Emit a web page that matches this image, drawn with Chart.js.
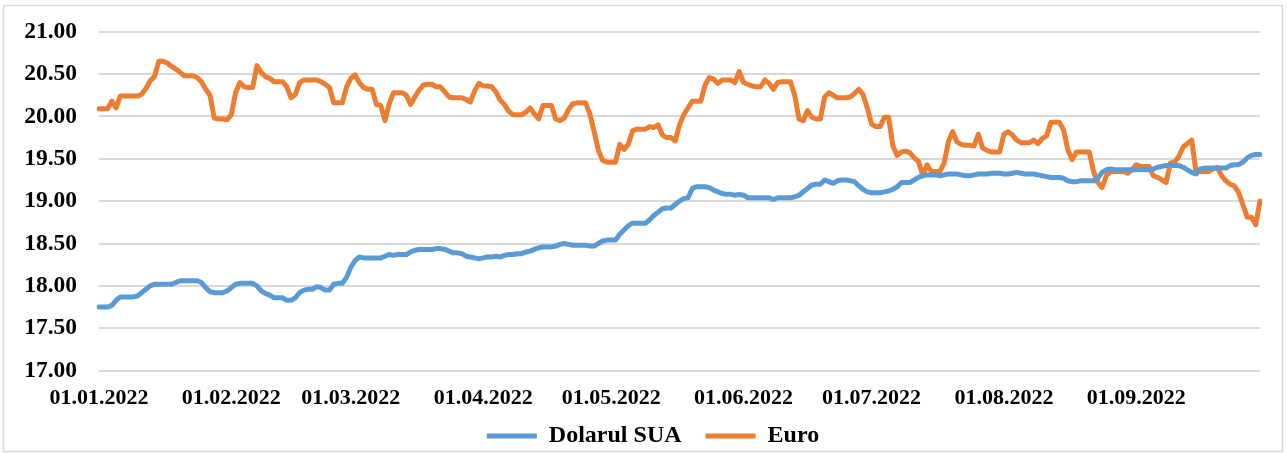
<!DOCTYPE html>
<html>
<head>
<meta charset="utf-8">
<script src="https://cdn.jsdelivr.net/npm/chart.js@4.4.0/dist/chart.umd.min.js"></script>
<style>
  html, body { margin: 0; padding: 0; background: #fff; }
  #wrap { width: 1287px; height: 453px; }
</style>
</head>
<body>
<div id="wrap"><canvas id="curs" width="1287" height="453"></canvas></div>
<script>
// cursul zilnic, 01.01.2022 - 30.09.2022 (o valoare pe zi)
const seriesNames = ['Dolarul SUA', 'Euro'];
const yTicks = [17.00, 17.50, 18.00, 18.50, 19.00, 19.50, 20.00, 20.50, 21.00];

const usdRate = [
  17.75,17.75,17.75,17.77,17.83,17.87,17.87,17.87,17.87,17.88,17.92,17.96,18.00,18.02,18.02,18.02,18.02,18.02,18.04,18.06,18.06,18.06,18.06,18.06,18.04,17.98,17.93,17.92,17.92,17.92,17.94, // ian
  17.98,18.02,18.03,18.03,18.03,18.03,18.00,17.94,17.91,17.89,17.86,17.86,17.86,17.83,17.83,17.86,17.92,17.95,17.96,17.96,17.99,17.98,17.95,17.95,18.02,18.03,18.03,18.10, // feb
  18.22,18.30,18.34,18.33,18.33,18.33,18.33,18.33,18.35,18.37,18.36,18.37,18.37,18.37,18.40,18.42,18.43,18.43,18.43,18.43,18.44,18.44,18.43,18.41,18.39,18.39,18.38,18.35,18.34,18.33,18.32, // mar
  18.33,18.34,18.34,18.35,18.34,18.36,18.37,18.37,18.38,18.38,18.40,18.41,18.43,18.45,18.46,18.46,18.46,18.47,18.49,18.50,18.49,18.48,18.48,18.48,18.48,18.47,18.47,18.50,18.53,18.54, // apr
  18.54,18.54,18.61,18.66,18.71,18.74,18.74,18.74,18.74,18.78,18.83,18.87,18.91,18.92,18.92,18.96,19.00,19.03,19.04,19.15,19.17,19.17,19.17,19.16,19.13,19.11,19.09,19.08,19.08,19.07,19.08, // mai
  19.07,19.04,19.04,19.04,19.04,19.04,19.04,19.02,19.04,19.04,19.04,19.04,19.05,19.07,19.11,19.15,19.19,19.20,19.20,19.25,19.23,19.21,19.24,19.25,19.25,19.24,19.23,19.18,19.14,19.11, // iun
  19.10,19.10,19.10,19.11,19.12,19.14,19.17,19.22,19.22,19.22,19.25,19.28,19.30,19.31,19.31,19.31,19.30,19.31,19.32,19.32,19.32,19.31,19.30,19.30,19.31,19.32,19.32,19.32,19.33,19.33,19.33, // iul
  19.32,19.32,19.33,19.34,19.33,19.32,19.32,19.32,19.31,19.30,19.29,19.28,19.28,19.28,19.27,19.24,19.23,19.23,19.24,19.24,19.24,19.24,19.27,19.34,19.37,19.38,19.37,19.37,19.37,19.37,19.37, // aug
  19.37,19.37,19.37,19.37,19.38,19.40,19.41,19.42,19.42,19.42,19.42,19.40,19.37,19.34,19.32,19.38,19.39,19.39,19.39,19.39,19.39,19.39,19.42,19.43,19.43,19.46,19.51,19.54,19.55,19.55  // sep
];

const eurRate = [
  20.09,20.09,20.09,20.18,20.10,20.24,20.24,20.24,20.24,20.24,20.26,20.33,20.42,20.47,20.65,20.65,20.63,20.59,20.56,20.52,20.48,20.48,20.48,20.46,20.41,20.32,20.25,19.98,19.97,19.97,19.96, // ian
  20.02,20.28,20.40,20.35,20.34,20.34,20.60,20.52,20.47,20.45,20.41,20.41,20.41,20.35,20.22,20.26,20.40,20.43,20.43,20.43,20.43,20.41,20.38,20.34,20.16,20.16,20.16,20.35, // feb
  20.45,20.49,20.40,20.34,20.32,20.32,20.14,20.13,19.95,20.15,20.28,20.28,20.28,20.25,20.14,20.23,20.31,20.37,20.38,20.38,20.35,20.35,20.29,20.23,20.22,20.22,20.22,20.20,20.17,20.30,20.39, // mar
  20.36,20.36,20.35,20.29,20.19,20.14,20.06,20.02,20.02,20.02,20.05,20.10,20.03,19.97,20.13,20.13,20.13,19.97,19.95,19.98,20.08,20.15,20.16,20.16,20.16,20.03,19.82,19.60,19.48,19.46, // apr
  19.46,19.46,19.67,19.61,19.67,19.83,19.85,19.85,19.85,19.88,19.87,19.90,19.78,19.75,19.75,19.71,19.90,20.02,20.10,20.18,20.18,20.18,20.37,20.46,20.44,20.39,20.43,20.43,20.43,20.40,20.53, // mai
  20.40,20.38,20.36,20.35,20.35,20.43,20.39,20.32,20.40,20.41,20.41,20.41,20.25,19.97,19.95,20.07,19.99,19.97,19.97,20.23,20.28,20.25,20.22,20.22,20.22,20.23,20.27,20.32,20.26,20.10, // iun
  19.91,19.88,19.88,19.99,19.99,19.65,19.54,19.58,19.59,19.57,19.51,19.47,19.30,19.43,19.35,19.35,19.35,19.45,19.70,19.82,19.70,19.67,19.66,19.66,19.65,19.79,19.63,19.60,19.58,19.58,19.58, // iul
  19.79,19.82,19.78,19.72,19.69,19.69,19.69,19.72,19.68,19.74,19.77,19.93,19.93,19.93,19.84,19.60,19.49,19.58,19.58,19.58,19.58,19.35,19.22,19.16,19.30,19.35,19.35,19.35,19.35,19.33,19.37, // aug
  19.43,19.41,19.41,19.41,19.30,19.28,19.25,19.22,19.45,19.46,19.53,19.64,19.68,19.72,19.35,19.35,19.35,19.35,19.38,19.40,19.30,19.24,19.20,19.18,19.10,18.96,18.81,18.81,18.72,19.00  // sep
];

// etichetele zilelor: dd.mm.yyyy
const days = [];
for (let i = 0; i < usdRate.length; i++) {
  const d = new Date(2022, 0, 1 + i);
  const dd = String(d.getDate()).padStart(2, '0');
  const mm = String(d.getMonth() + 1).padStart(2, '0');
  days.push(dd + '.' + mm + '.' + d.getFullYear());
}

const serif = "'Liberation Serif', 'Times New Roman', serif";

// fundal alb + chenar gri, legenda mutata putin (dreapta / jos)
const framePlugin = {
  id: 'frame',
  afterLayout(chart) {
    const lg = chart.legend;
    lg.left += 23; lg.right += 23;
    lg.top += 5; lg.bottom += 5;
  },
  beforeDraw(chart) {
    const c = chart.ctx;
    c.save();
    c.fillStyle = '#ffffff';
    c.fillRect(0, 0, chart.width, chart.height);
    c.strokeStyle = '#d9d9d9';
    c.lineWidth = 1.5;
    c.strokeRect(3.5, 5.5, 1279, 446);
    c.restore();
  }
};

const ctx = document.getElementById('curs').getContext('2d');
new Chart(ctx, {
  type: 'line',
  data: {
    labels: days,
    datasets: [{
      label: seriesNames[0],
      data: usdRate,
      borderColor: '#5B9BD5',
      backgroundColor: '#5B9BD5',
      borderWidth: 5,
      borderCapStyle: 'round',
      borderJoinStyle: 'round',
      pointRadius: 0,
      tension: 0
    }, {
      label: seriesNames[1],
      data: eurRate,
      borderColor: '#ED7D31',
      backgroundColor: '#ED7D31',
      borderWidth: 5,
      borderCapStyle: 'round',
      borderJoinStyle: 'round',
      pointRadius: 0,
      tension: 0
    }]
  },
  options: {
    responsive: false,
    animation: false,
    layout: { padding: { top: 31.7, right: 27, bottom: 0, left: 0 } },
    plugins: {
      tooltip: { enabled: false },
      legend: {
        position: 'bottom',
        labels: {
          usePointStyle: true,
          pointStyle: 'line',
          pointStyleWidth: 50,
          padding: 0,
          color: '#000',
          font: { family: serif, size: 24, weight: 'bold' },
          generateLabels(chart) {
            const items = Chart.defaults.plugins.legend.labels.generateLabels(chart);
            items[0].text += '    ';
            return items;
          }
        }
      }
    },
    scales: {
      x: {
        grid: { display: false },
        border: { display: false },
        ticks: {
          autoSkip: false,
          maxRotation: 0,
          minRotation: 0,
          padding: 7,
          color: '#000',
          font: { family: serif, size: 22, weight: 'bold' },
          callback: function(v) {
            const l = this.getLabelForValue(v);
            return l.startsWith('01.') ? l : '';
          }
        }
      },
      y: {
        min: 17,
        max: 21,
        afterFit(scale) {
          scale.width = 99;
          scale.paddingTop = 0;
          scale.paddingBottom = 0;
        },
        afterBuildTicks(scale) { scale.ticks = yTicks.map(v => ({ value: v })); },
        grid: { color: '#d9d9d9', lineWidth: 2, drawTicks: false },
        border: { display: false },
        ticks: {
          padding: 22,
          color: '#000',
          font: { family: serif, size: 23.5, weight: 'bold' },
          callback: v => v.toFixed(2)
        }
      }
    }
  },
  plugins: [framePlugin]
});
</script>
</body>
</html>
